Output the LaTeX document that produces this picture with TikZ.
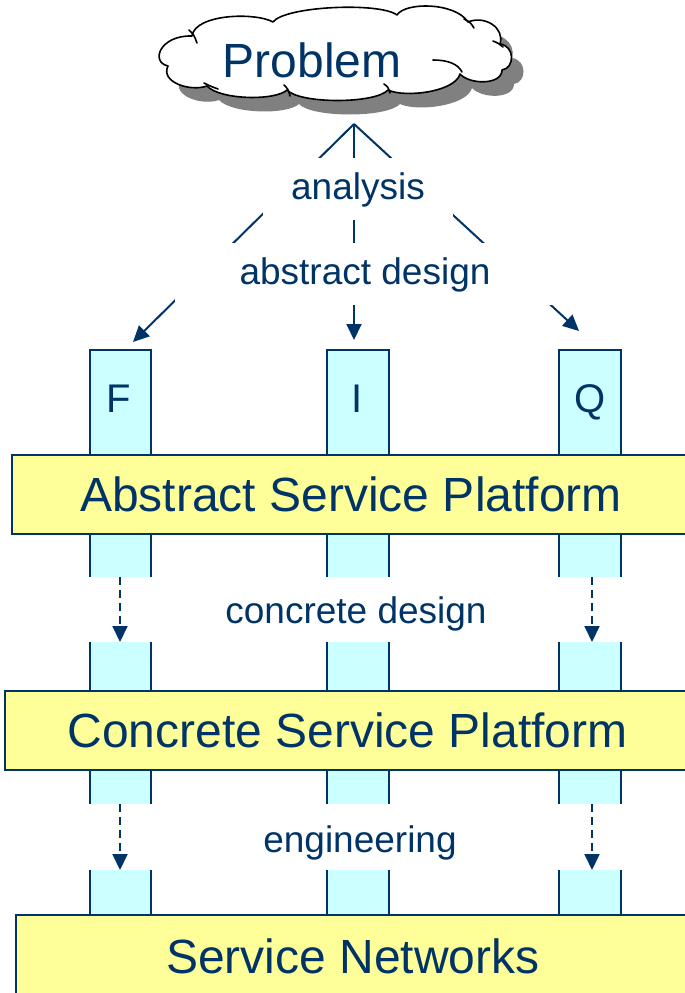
\documentclass[tikz,border=0pt]{standalone}
\usepackage{fontspec}
\setmainfont{Liberation Sans}
\usetikzlibrary{arrows.meta}
\definecolor{navy}{HTML}{003366}
\definecolor{platfill}{HTML}{FFFF99}
\definecolor{colfill}{HTML}{CCFFFF}
\definecolor{shadowgray}{HTML}{808080}
\newcommand\cloudpath{(192,36) .. controls (195,14) and (255,12) .. (273,22)
  .. controls (285,6) and (380,2) .. (397,15)
  .. controls (405,2) and (455,2) .. (468,22)
  .. controls (485,15) and (505,28) .. (500,44)
  .. controls (515,46) and (515,68) .. (502,70)
  .. controls (502,85) and (470,85) .. (460,74)
  .. controls (455,92) and (405,98) .. (388,90)
  .. controls (375,104) and (300,104) .. (287,90)
  .. controls (275,101) and (220,100) .. (207,86)
  .. controls (190,92) and (160,82) .. (168,66)
  .. controls (150,62) and (160,35) .. (192,36) -- cycle}
\begin{document}
\begin{tikzpicture}[x=1pt,y=-1pt,
  bigtext/.style={text=navy, font=\fontsize{48}{56}\selectfont},
  labeltext/.style={text=navy, font=\fontsize{37}{44}\selectfont},
  lettertext/.style={text=navy, font=\fontsize{40}{48}\selectfont},
  plat/.style={draw=navy, line width=2pt, fill=platfill, inner sep=0pt},
  colline/.style={draw=navy, line width=2pt},
  cloudline/.style={draw=black, line width=1.6pt},
  flowarrow/.style={draw=navy, line width=2pt, -{Triangle[length=16pt,width=15pt]}},
  dasharrow/.style={draw=navy, line width=2pt, dash pattern=on 8pt off 5pt,
     -{Triangle[length=16pt,width=15pt]}},
  whitebox/.style={fill=white, inner sep=0pt}]
\useasboundingbox (0,0) rectangle (685,993);
\clip (0,0) rectangle (685,993);

% cloud with shadow
\fill[shadowgray, shift={(12,14)}] \cloudpath;
\filldraw[cloudline, fill=white, line join=round] \cloudpath;
\draw[cloudline, line cap=round]
  (189,30) .. controls (194,35) .. (197,43)
  (464,19) .. controls (470,22) .. (474,28)
  (493,41) .. controls (498,43) .. (503,47)
  (433,60) .. controls (448,60) and (458,64) .. (462,72)
  (384,84) .. controls (388,87) .. (390,93)
  (284,85) .. controls (288,89) .. (290,96)
  (204,83) .. controls (210,86) .. (218,89);
\node[bigtext] (problem) at (312,60.5) {Problem};

% columns
\foreach \a/\b in {90/151, 327/389, 559/621} {
  \fill[colfill] (\a,350) rectangle (\b,460);
  \draw[colline] (\a,460) -- (\a,350) -- (\b,350) -- (\b,460);
  \foreach \t/\u in {530/577, 642/695, 765/804, 870/920} {
    \fill[colfill] (\a,\t) rectangle (\b,\u);
    \draw[colline] (\a,\t) -- (\a,\u) (\b,\t) -- (\b,\u);
  }
}
\node[lettertext, anchor=base] (F) at (119,412) {F};
\node[lettertext, anchor=base] (I) at (357,412) {I};
\node[lettertext, anchor=base] (Q) at (590,412) {Q};

% platforms
\node[plat, bigtext, minimum width=678pt, minimum height=79pt] (abstract) at (351,494.5) {Abstract Service Platform};
\node[plat, bigtext, minimum width=685pt, minimum height=79pt] (concrete) at (347.5,730.5) {Concrete Service Platform};
\node[plat, bigtext, minimum width=674pt, minimum height=82pt] (networks) at (353,956) {Service Networks};

% analysis / abstract design arrows
\coordinate (apex) at (354,124);
\coordinate (tF) at (133,342);
\coordinate (tI) at (354,340);
\coordinate (tQ) at (579,331);
\draw[flowarrow] (apex) -- (tF);
\draw[flowarrow] (apex) -- (tI);
\draw[flowarrow] (apex) -- (tQ);
\node[labeltext, whitebox, anchor=base, minimum width=190pt, minimum height=62pt] (analysis) at (358,199) {analysis};
\node[labeltext, whitebox, anchor=base, minimum width=380pt, minimum height=62pt] (absdesign) at (365,284) {abstract design};

% concrete design arrows
\coordinate (cF1) at (120,577);
\coordinate (cF2) at (120,642);
\coordinate (cQ1) at (592,577);
\coordinate (cQ2) at (592,642);
\draw[dasharrow] (cF1) -- (cF2);
\draw[dasharrow] (cQ1) -- (cQ2);
\node[labeltext, anchor=base] (condesign) at (356,623) {concrete design};

% engineering arrows
\coordinate (eF1) at (120,804);
\coordinate (eF2) at (120,870);
\coordinate (eQ1) at (592,804);
\coordinate (eQ2) at (592,870);
\draw[dasharrow] (eF1) -- (eF2);
\draw[dasharrow] (eQ1) -- (eQ2);
\node[labeltext, anchor=base] (engineering) at (360,852) {engineering};
\end{tikzpicture}
\end{document}
